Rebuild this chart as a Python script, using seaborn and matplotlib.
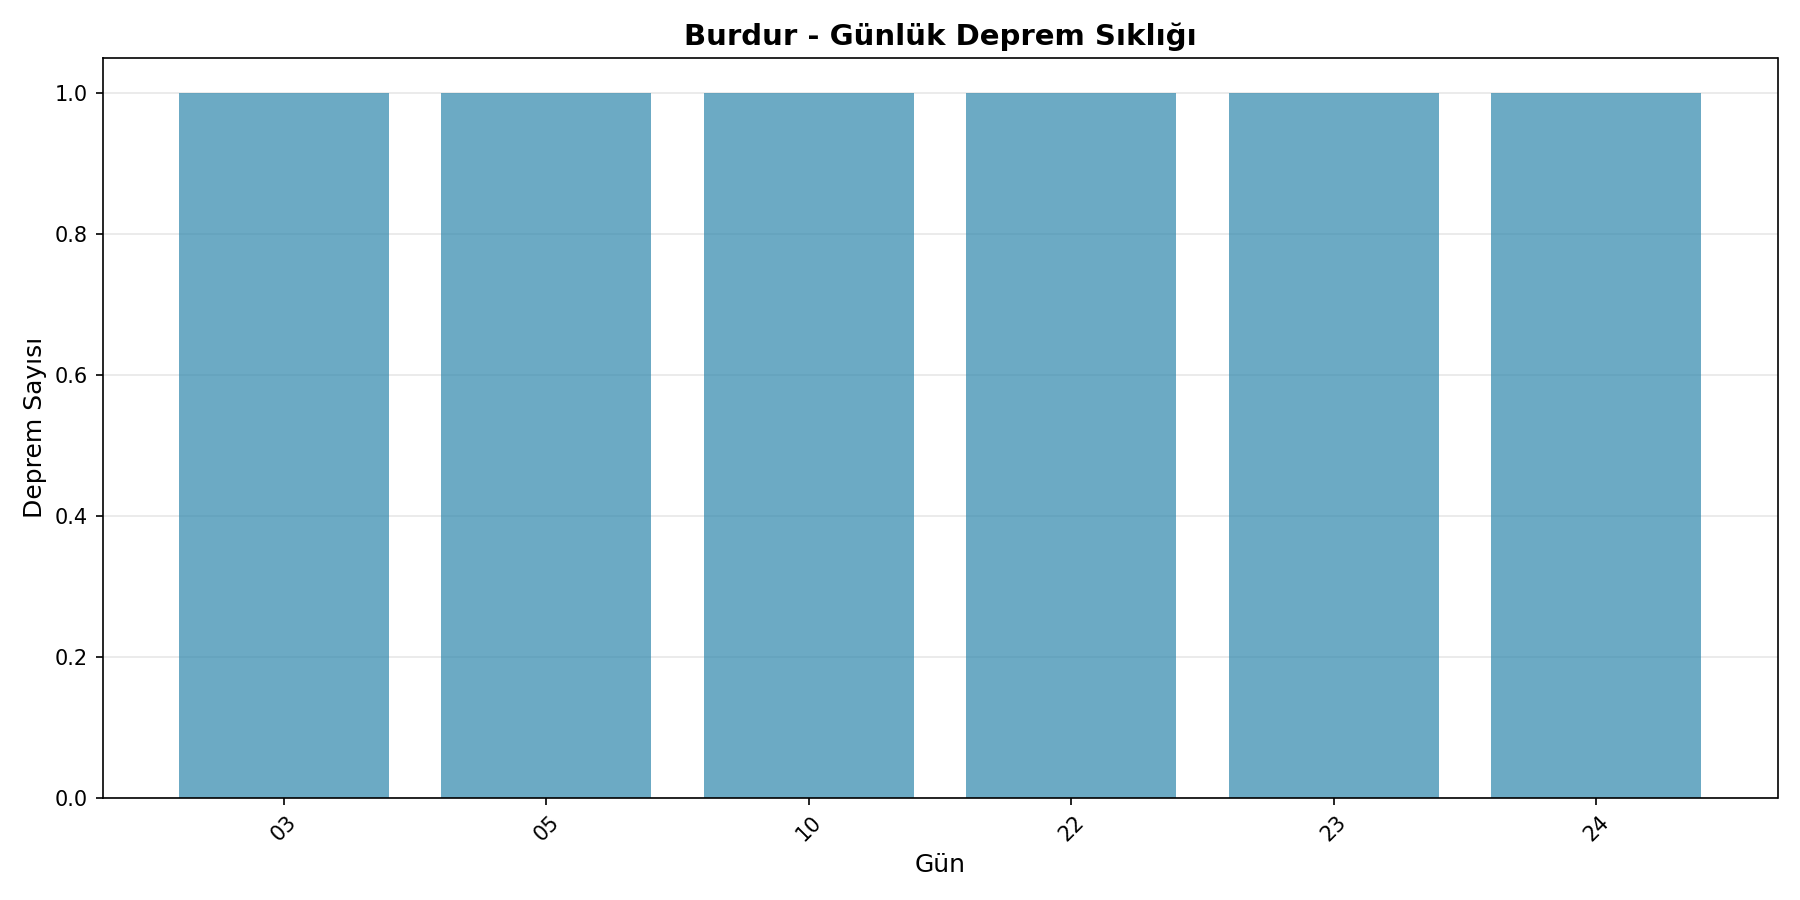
import matplotlib
matplotlib.use("Agg")
import matplotlib.pyplot as plt
import seaborn as sns
import pandas as pd

days = ["03", "05", "10", "22", "23", "24"]
counts = [1, 1, 1, 1, 1, 1]

df = pd.DataFrame({"Gün": days, "Deprem Sayısı": counts})

fig, ax = plt.subplots(figsize=(12, 6), dpi=150)
sns.barplot(data=df, x="Gün", y="Deprem Sayısı", color="#2E86AB", alpha=0.7,
            width=0.8, ax=ax, saturation=1)
ax.set_title("Burdur - Günlük Deprem Sıklığı", fontsize=14, fontweight="bold")
ax.set_xlabel("Gün", fontsize=12)
ax.set_ylabel("Deprem Sayısı", fontsize=12)
ax.tick_params(axis="x", rotation=45)
ax.grid(axis="y", alpha=0.3)
ax.set_axisbelow(True)
n = len(days)
pad = 0.05 * (n - 1 + 0.8)
ax.set_xlim(-0.4 - pad, n - 1 + 0.4 + pad)
ax.set_ylim(0, 1.05)
plt.tight_layout()
fig.savefig("out.png", dpi=150)
